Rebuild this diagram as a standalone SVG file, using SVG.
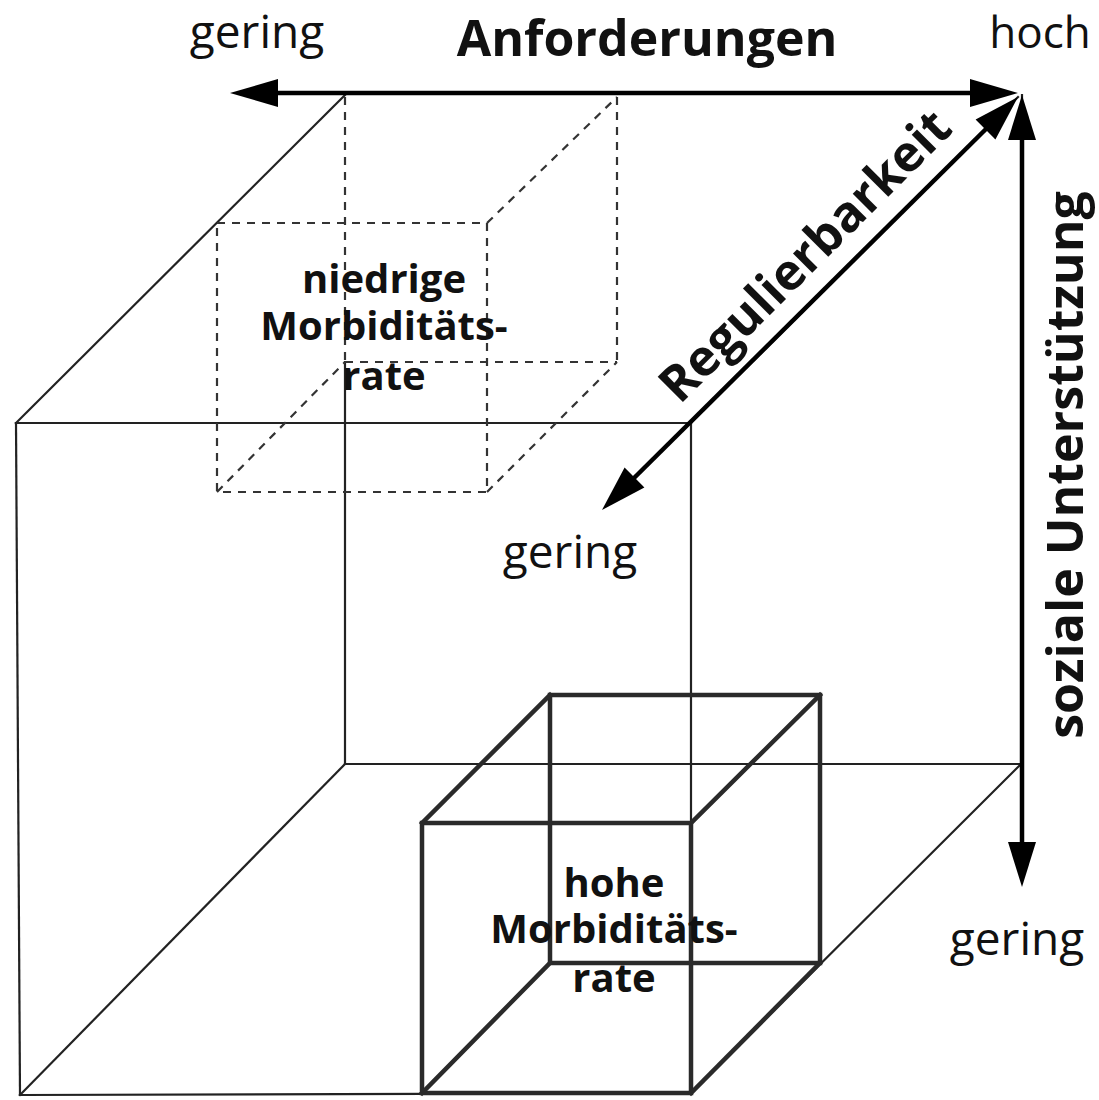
<svg xmlns="http://www.w3.org/2000/svg" width="1099" height="1100" viewBox="0 0 1099 1100">
<style>
  .t { font-family: "Open Sans", "Noto Sans", "DejaVu Sans", sans-serif; fill: #111; }
  .reg { font-size: 46px; font-weight: normal; }
  .bold { font-size: 50px; font-weight: bold; }
  .lab { font-size: 40px; font-weight: bold; }
  .big { fill: none; stroke: #222; stroke-width: 2.2; stroke-linecap: square; }
  .dash { fill: none; stroke: #333; stroke-width: 2.2; stroke-dasharray: 8 7; }
  .small { fill: none; stroke: #2a2a2a; stroke-width: 4.5; stroke-linecap: square; stroke-linejoin: miter; }
  .axis { fill: none; stroke: #000; stroke-width: 4.5; }
  .head { fill: #000; stroke: none; }
</style>
<rect width="1099" height="1100" fill="#fff"/>

<g id="big-cube">
  <line class="big" x1="16" y1="423" x2="691" y2="423"/>
  <line class="big" x1="16" y1="423" x2="20" y2="1095"/>
  <line class="big" x1="20" y1="1095" x2="691" y2="1093"/>
  <line class="big" x1="691" y1="423" x2="691" y2="1093"/>
  <line class="big" x1="16" y1="423" x2="345" y2="95"/>
  <line class="big" x1="691" y1="423" x2="1018" y2="97"/>
  <line class="big" x1="20" y1="1095" x2="345" y2="764"/>
  <line class="big" x1="691" y1="1093" x2="1021" y2="764"/>
  <line class="big" x1="345" y1="764" x2="1021" y2="764"/>
  <line class="big" x1="345" y1="362" x2="345" y2="764"/>
  <line class="big" x1="1022" y1="95" x2="1022" y2="764"/>
</g>

<g id="dashed-cube">
  <rect class="dash" x="217" y="223" width="270" height="269"/>
  <line class="dash" x1="345" y1="97" x2="345" y2="362"/>
  <line class="dash" x1="617" y1="97" x2="617" y2="362"/>
  <line class="dash" x1="345" y1="362" x2="617" y2="362"/>
  <line class="dash" x1="487" y1="223" x2="617" y2="97"/>
  <line class="dash" x1="487" y1="492" x2="617" y2="362"/>
  <line class="dash" x1="217" y1="492" x2="345" y2="362"/>
</g>

<g id="small-cube">
  <rect class="small" x="422" y="823" width="269" height="270"/>
  <rect class="small" x="550" y="695" width="270" height="268"/>
  <line class="small" x1="422" y1="823" x2="550" y2="695"/>
  <line class="small" x1="691" y1="823" x2="820" y2="695"/>
  <line class="small" x1="691" y1="1093" x2="820" y2="963"/>
  <line class="small" x1="422" y1="1093" x2="550" y2="963"/>
</g>

<g id="connectors">
  <line class="axis" x1="270" y1="93" x2="975" y2="93"/>
  <polygon class="head" points="1018,93 970,79 970,107"/>
  <polygon class="head" points="230,93 278,79 278,107"/>
  <line class="axis" x1="1022" y1="135" x2="1022" y2="846"/>
  <polygon class="head" points="1022,95 1008,140 1036,140"/>
  <polygon class="head" points="1022,887 1008,842 1036,842"/>
  <line class="axis" x1="990" y1="125" x2="630" y2="482"/>
  <polygon class="head" points="1018,97 995.4,139.4 975.6,119.6"/>
  <polygon class="head" points="602,510 644.4,487.4 624.6,467.6"/>
</g>

<g id="labels">
  <text class="t reg" x="257" y="48" text-anchor="middle">gering</text>
  <text class="t bold" x="647" y="56" text-anchor="middle">Anforderungen</text>
  <text class="t" x="1040" y="48" text-anchor="middle" font-size="44">hoch</text>
  <text class="t bold" text-anchor="middle" transform="translate(817,268) rotate(-45)">Regulierbarkeit</text>
  <text class="t reg" x="570" y="568" text-anchor="middle">gering</text>
  <text class="t bold" text-anchor="middle" transform="translate(1083,465) rotate(-90)">soziale Unterstützung</text>
  <text class="t reg" x="1017" y="955" text-anchor="middle">gering</text>
</g>

<g id="node-niedrige">
  <text class="t lab" text-anchor="middle" x="384" y="293">niedrige<tspan x="384" dy="47">Morbiditäts-</tspan><tspan x="384" dy="50">rate</tspan></text>
</g>

<g id="node-hohe">
  <text class="t lab" text-anchor="middle" x="614" y="897">hohe<tspan x="614" dy="46">Morbiditäts-</tspan><tspan x="614" dy="49">rate</tspan></text>
</g>
</svg>
